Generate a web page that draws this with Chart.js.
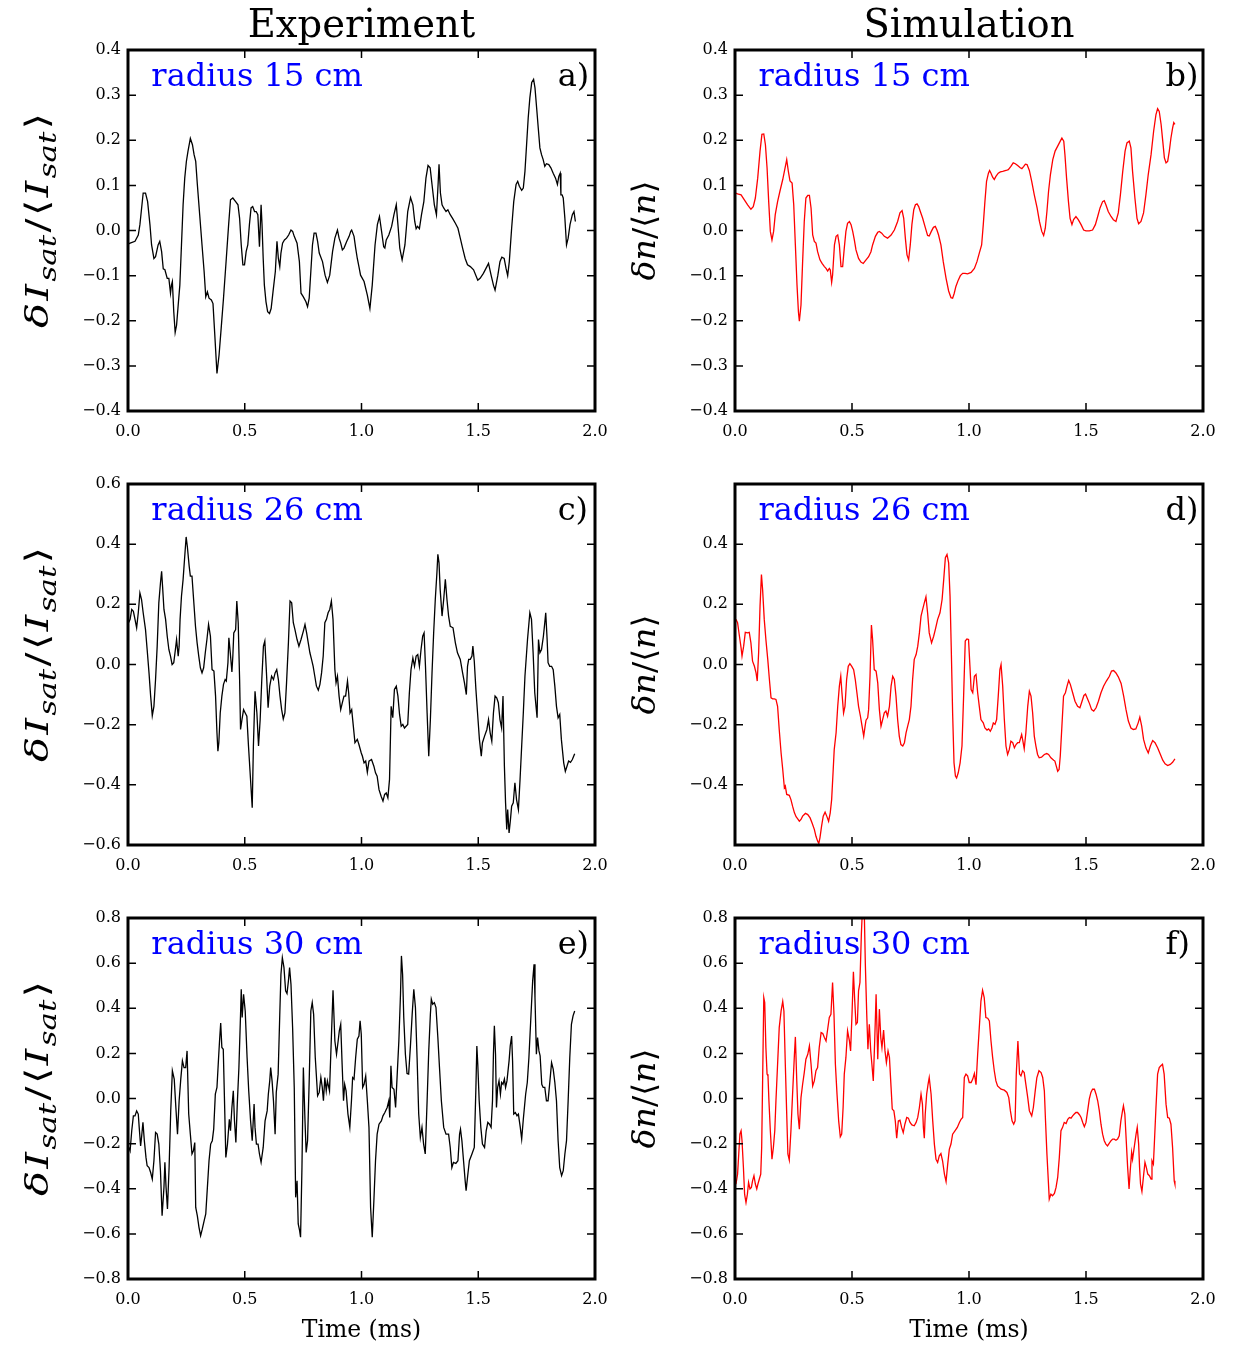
<!DOCTYPE html>
<html>
<head>
<meta charset="utf-8">
<script src="https://cdn.jsdelivr.net/npm/chart.js@4/dist/chart.umd.min.js"></script>
<style>
  html, body { margin: 0; padding: 0; background: #fff; }
  body { width: 1239px; height: 1347px; position: relative; overflow: hidden; }
  canvas { position: absolute; }
</style>
</head>
<body>
<script>
// Time axis (ms) and tick values
const timeTicks = [0, 0.5, 1.0, 1.5, 2.0];
const ticks15 = [-0.4, -0.3, -0.2, -0.1, 0.0, 0.1, 0.2, 0.3, 0.4];
const ticks26exp = [-0.6, -0.4, -0.2, 0.0, 0.2, 0.4, 0.6];
const ticks26sim = [-0.4, -0.2, 0.0, 0.2, 0.4];
const ticks30 = [-0.8, -0.6, -0.4, -0.2, 0.0, 0.2, 0.4, 0.6, 0.8];

// Probe fluctuation dI_sat/<I_sat>, radius 15 cm: [time (ms), value]
const exp15 = [[0.002,-0.030],[0.009,-0.028],[0.030,-0.024],[0.044,-0.010],[0.051,0.013],[0.065,0.083],[0.075,0.083],[0.084,0.064],[0.094,0.013],[0.101,-0.032],[0.111,-0.062],
[0.118,-0.058],[0.129,-0.032],[0.136,-0.024],[0.144,-0.047],[0.151,-0.085],[0.158,-0.087],[0.168,-0.106],[0.175,-0.106],[0.182,-0.139],[0.186,-0.121],
[0.190,-0.113],[0.196,-0.180],[0.202,-0.226],[0.208,-0.210],[0.215,-0.165],[0.222,-0.121],[0.229,-0.032],[0.236,0.057],[0.243,0.116],[0.250,0.153],
[0.257,0.176],[0.267,0.204],[0.276,0.190],[0.283,0.168],[0.290,0.153],[0.297,0.102],[0.307,0.035],[0.317,-0.032],[0.326,-0.091],[0.333,-0.147],
[0.340,-0.136],[0.347,-0.150],[0.357,-0.154],[0.364,-0.162],[0.371,-0.225],[0.381,-0.317],[0.390,-0.276],[0.399,-0.217],[0.409,-0.150],[0.421,-0.062],
[0.431,0.013],[0.439,0.068],[0.449,0.072],[0.461,0.064],[0.471,0.057],[0.478,0.027],[0.485,-0.032],[0.492,-0.076],[0.499,-0.076],[0.506,-0.047],
[0.513,-0.032],[0.520,0.013],[0.527,0.050],[0.534,0.053],[0.542,0.042],[0.549,0.042],[0.556,0.035],[0.563,-0.036],[0.570,0.057],[0.574,0.013],
[0.579,-0.062],[0.584,-0.121],[0.591,-0.158],[0.598,-0.180],[0.606,-0.184],[0.613,-0.173],[0.621,-0.136],[0.631,-0.091],[0.638,-0.024],[0.644,-0.062],
[0.650,-0.080],[0.655,-0.050],[0.662,-0.028],[0.670,-0.021],[0.679,-0.017],[0.688,-0.010],[0.698,0.001],[0.705,-0.002],[0.712,-0.013],[0.724,-0.028],
[0.734,-0.069],[0.741,-0.139],[0.751,-0.147],[0.762,-0.158],[0.769,-0.169],[0.776,-0.150],[0.783,-0.091],[0.790,-0.032],[0.797,-0.006],[0.805,-0.006],
[0.812,-0.024],[0.819,-0.050],[0.833,-0.069],[0.844,-0.099],[0.854,-0.115],[0.864,-0.099],[0.876,-0.047],[0.886,-0.017],[0.897,0.001],[0.904,-0.017],
[0.911,-0.028],[0.918,-0.043],[0.925,-0.039],[0.937,-0.024],[0.947,-0.013],[0.954,-0.002],[0.958,0.001],[0.968,-0.013],[0.975,-0.039],[0.982,-0.062],
[0.989,-0.080],[0.996,-0.099],
[1.011,-0.113],[1.025,-0.143],[1.036,-0.173],[1.046,-0.121],[1.058,-0.032],[1.068,0.013],[1.077,0.031],[1.086,-0.002],[1.095,-0.036],[1.100,-0.039],
[1.106,-0.021],[1.117,-0.010],[1.129,0.009],[1.139,0.035],[1.149,0.057],[1.156,0.013],[1.164,-0.039],[1.174,-0.065],[1.186,-0.032],[1.198,0.042],
[1.210,0.073],[1.220,0.057],[1.228,0.020],[1.234,0.004],[1.240,0.009],[1.248,0.004],[1.257,0.035],[1.267,0.064],[1.276,0.116],[1.285,0.144],
[1.294,0.139],[1.302,0.102],[1.312,0.057],[1.321,0.035],[1.328,0.102],[1.332,0.147],[1.338,0.083],[1.345,0.057],[1.352,0.050],[1.362,0.042],
[1.370,0.046],[1.380,0.035],[1.390,0.027],[1.402,0.016],[1.413,0.005],[1.423,-0.017],[1.433,-0.039],[1.444,-0.062],[1.454,-0.076],[1.466,-0.080],
[1.480,-0.087],[1.498,-0.110],[1.508,-0.106],[1.522,-0.095],[1.537,-0.080],[1.544,-0.073],[1.555,-0.099],[1.565,-0.121],[1.572,-0.132],[1.584,-0.099],
[1.593,-0.069],[1.601,-0.059],[1.611,-0.062],[1.619,-0.084],[1.626,-0.100],[1.633,-0.069],[1.643,0.005],[1.652,0.064],[1.662,0.102],[1.669,0.109],
[1.676,0.098],[1.686,0.089],[1.693,0.094],[1.700,0.131],[1.707,0.190],[1.714,0.250],[1.721,0.294],[1.729,0.328],[1.737,0.335],[1.743,0.316],
[1.750,0.272],[1.757,0.227],[1.764,0.183],[1.771,0.168],[1.778,0.157],[1.785,0.142],[1.792,0.148],[1.802,0.146],[1.811,0.139],[1.821,0.127],
[1.831,0.116],[1.839,0.102],[1.845,0.120],[1.851,0.127],[1.854,0.079],[1.859,0.079],[1.864,0.072],[1.871,0.027],[1.878,-0.032],[1.885,-0.017],
[1.893,0.013],[1.903,0.035],[1.910,0.042],[1.916,0.020]];

// Simulated density fluctuation dn/<n>, radius 15 cm
const sim15 = [[0.002,0.083],[0.011,0.081],[0.026,0.079],[0.040,0.068],[0.054,0.057],[0.068,0.047],[0.078,0.053],[0.087,0.072],[0.097,0.116],[0.107,0.176],[0.115,0.213],
[0.123,0.214],[0.130,0.190],[0.137,0.139],[0.144,0.064],[0.151,-0.002],[0.158,-0.021],[0.165,-0.002],[0.172,0.035],[0.182,0.064],[0.192,0.087],
[0.204,0.113],[0.214,0.139],[0.221,0.157],[0.228,0.131],[0.235,0.110],[0.244,0.105],[0.251,0.057],[0.258,-0.032],[0.265,-0.121],[0.271,-0.180],
[0.275,-0.201],[0.282,-0.165],[0.289,-0.069],[0.296,0.020],[0.303,0.072],[0.311,0.078],[0.318,0.078],[0.325,0.050],[0.332,-0.010],[0.339,-0.024],
[0.346,-0.028],[0.353,-0.047],[0.363,-0.065],[0.372,-0.073],[0.382,-0.080],[0.389,-0.084],[0.396,-0.090],[0.403,-0.084],[0.407,-0.087],[0.413,-0.115],
[0.417,-0.099],[0.425,-0.032],[0.432,-0.013],[0.439,-0.010],[0.446,-0.032],[0.453,-0.080],[0.460,-0.080],[0.467,-0.039],[0.474,-0.002],[0.481,0.016],
[0.489,0.020],[0.496,0.013],[0.503,-0.002],[0.510,-0.021],[0.517,-0.043],[0.528,-0.062],[0.538,-0.070],[0.548,-0.073],[0.560,-0.065],[0.571,-0.058],
[0.581,-0.047],[0.588,-0.032],[0.600,-0.013],[0.610,-0.004],[0.617,-0.002],[0.627,-0.006],[0.638,-0.013],[0.652,-0.017],[0.667,-0.010],[0.681,0.001],
[0.695,0.020],[0.705,0.039],[0.714,0.044],[0.721,0.027],[0.728,-0.017],[0.735,-0.054],[0.742,-0.065],[0.749,-0.032],[0.756,0.013],[0.764,0.046],
[0.771,0.057],[0.778,0.059],[0.785,0.053],[0.792,0.042],[0.802,0.027],[0.813,0.007],[0.823,-0.011],[0.830,-0.012],[0.839,-0.002],[0.848,0.007],
[0.856,0.009],[0.863,0.001],[0.870,-0.010],[0.880,-0.032],[0.890,-0.069],[0.902,-0.106],[0.913,-0.134],[0.923,-0.149],[0.930,-0.150],[0.937,-0.139],
[0.944,-0.124],[0.954,-0.110],[0.963,-0.100],[0.973,-0.095],[0.983,-0.095],[0.994,-0.096],
[1.009,-0.093],[1.023,-0.084],[1.034,-0.069],[1.044,-0.050],[1.054,-0.032],[1.061,0.013],[1.068,0.064],[1.075,0.109],[1.083,0.127],[1.088,0.133],
[1.094,0.127],[1.101,0.118],[1.108,0.113],[1.115,0.120],[1.125,0.127],[1.134,0.130],[1.144,0.131],[1.158,0.133],[1.168,0.135],[1.179,0.142],
[1.189,0.150],[1.198,0.148],[1.208,0.144],[1.219,0.139],[1.226,0.137],[1.234,0.142],[1.241,0.147],[1.248,0.146],[1.258,0.133],[1.268,0.109],
[1.279,0.079],[1.291,0.050],[1.301,0.020],[1.311,-0.002],[1.319,-0.011],[1.326,0.005],[1.333,0.042],[1.340,0.087],[1.348,0.124],[1.358,0.157],
[1.368,0.176],[1.379,0.187],[1.390,0.198],[1.397,0.205],[1.405,0.198],[1.410,0.168],[1.417,0.116],[1.425,0.064],[1.432,0.027],[1.440,0.013],
[1.447,0.024],[1.457,0.031],[1.467,0.024],[1.479,0.013],[1.490,0.001],[1.500,-0.001],[1.514,-0.001],[1.528,0.001],[1.540,0.013],[1.550,0.031],
[1.560,0.050],[1.571,0.064],[1.578,0.066],[1.585,0.057],[1.595,0.042],[1.607,0.031],[1.617,0.024],[1.628,0.020],[1.638,0.039],[1.647,0.079],
[1.657,0.131],[1.667,0.176],[1.675,0.194],[1.685,0.198],[1.692,0.183],[1.699,0.131],[1.709,0.072],[1.718,0.027],[1.725,0.015],[1.735,0.020],
[1.746,0.039],[1.756,0.079],[1.766,0.124],[1.778,0.168],[1.789,0.220],[1.799,0.257],[1.806,0.270],[1.813,0.264],[1.821,0.235],[1.828,0.198],
[1.835,0.161],[1.842,0.150],[1.849,0.153],[1.856,0.176],[1.863,0.205],[1.870,0.227],[1.875,0.239],[1.880,0.235]];

// Probe fluctuation, radius 26 cm
const exp26 = [[0.003,0.140],[0.009,0.150],[0.016,0.183],[0.023,0.177],[0.030,0.150],[0.037,0.122],[0.044,0.172],[0.051,0.238],[0.058,0.216],[0.065,0.172],[0.075,0.116],
[0.082,0.050],[0.090,-0.028],[0.097,-0.105],[0.104,-0.170],[0.111,-0.139],[0.118,-0.050],[0.125,0.061],[0.132,0.205],[0.139,0.271],[0.144,0.310],
[0.148,0.260],[0.154,0.183],[0.161,0.150],[0.168,0.094],[0.175,0.050],[0.182,0.028],[0.189,0.000],[0.196,0.006],[0.203,0.050],[0.208,0.083],
[0.215,0.028],[0.219,0.061],[0.223,0.150],[0.229,0.227],[0.236,0.283],[0.243,0.360],[0.249,0.424],[0.254,0.393],[0.262,0.327],[0.267,0.294],
[0.274,0.294],[0.281,0.216],[0.289,0.127],[0.296,0.072],[0.303,0.028],[0.310,-0.011],[0.317,-0.028],[0.324,-0.011],[0.331,0.039],[0.338,0.083],
[0.345,0.133],[0.353,0.094],[0.360,-0.017],[0.368,-0.022],[0.375,-0.105],[0.381,-0.227],[0.385,-0.288],[0.389,-0.260],[0.395,-0.161],[0.402,-0.105],
[0.409,-0.066],[0.416,-0.050],[0.421,-0.055],[0.428,0.006],[0.432,0.089],[0.438,0.039],[0.445,-0.025],[0.449,0.028],[0.453,0.105],[0.461,0.116],
[0.466,0.211],[0.472,0.139],[0.478,-0.050],[0.482,-0.216],[0.488,-0.183],[0.495,-0.150],[0.502,-0.161],[0.509,-0.172],[0.516,-0.271],[0.523,-0.360],
[0.532,-0.476],[0.537,-0.271],[0.544,-0.089],[0.552,-0.161],[0.559,-0.271],[0.566,-0.183],[0.573,-0.050],[0.580,0.061],[0.586,0.078],[0.593,-0.028],
[0.600,-0.144],[0.607,-0.072],[0.615,-0.039],[0.623,-0.050],[0.630,-0.028],[0.637,-0.017],[0.644,-0.050],[0.651,-0.105],[0.658,-0.150],[0.665,-0.181],
[0.672,-0.161],[0.679,-0.061],[0.687,0.072],[0.694,0.211],[0.701,0.205],[0.708,0.139],[0.715,0.116],[0.724,0.083],[0.732,0.061],[0.741,0.083],
[0.751,0.111],[0.758,0.133],[0.765,0.105],[0.772,0.072],[0.779,0.039],[0.786,0.017],[0.793,-0.006],[0.800,-0.039],[0.807,-0.072],[0.815,-0.085],
[0.822,-0.066],[0.829,-0.028],[0.836,0.028],[0.843,0.139],[0.850,0.150],[0.857,0.172],[0.864,0.183],[0.871,0.211],[0.878,0.150],[0.886,-0.017],
[0.891,-0.061],[0.897,-0.039],[0.904,-0.105],[0.911,-0.150],[0.918,-0.127],[0.925,-0.105],[0.932,-0.105],[0.940,-0.055],[0.945,-0.094],[0.951,-0.161],
[0.958,-0.150],[0.965,-0.205],[0.972,-0.260],[0.982,-0.249],[0.989,-0.266],[0.999,-0.294],
[1.004,-0.305],[1.011,-0.327],[1.018,-0.321],[1.025,-0.358],[1.032,-0.321],[1.043,-0.316],[1.053,-0.338],[1.060,-0.360],[1.067,-0.371],[1.075,-0.416],
[1.084,-0.438],[1.092,-0.454],[1.099,-0.432],[1.106,-0.427],[1.113,-0.443],[1.120,-0.382],[1.127,-0.139],[1.134,-0.177],[1.141,-0.083],[1.149,-0.072],
[1.156,-0.105],[1.163,-0.166],[1.170,-0.205],[1.177,-0.199],[1.184,-0.211],[1.198,-0.199],[1.205,-0.094],[1.212,-0.017],[1.220,0.022],[1.227,-0.006],
[1.234,0.028],[1.241,0.033],[1.248,-0.006],[1.255,0.050],[1.262,0.094],[1.268,0.105],[1.274,-0.006],[1.281,-0.161],[1.288,-0.305],[1.295,-0.183],
[1.302,-0.028],[1.309,0.105],[1.316,0.216],[1.323,0.305],[1.327,0.366],[1.332,0.338],[1.337,0.249],[1.345,0.161],[1.352,0.216],[1.359,0.283],
[1.366,0.216],[1.373,0.161],[1.380,0.127],[1.392,0.122],[1.402,0.072],[1.411,0.039],[1.423,0.017],[1.433,-0.028],[1.441,-0.061],[1.449,-0.100],
[1.454,-0.006],[1.459,0.017],[1.466,0.017],[1.473,0.028],[1.477,0.061],[1.483,0.011],[1.490,-0.083],[1.497,-0.161],[1.505,-0.249],[1.513,-0.305],
[1.518,-0.260],[1.527,-0.238],[1.537,-0.216],[1.544,-0.183],[1.551,-0.227],[1.558,-0.255],[1.565,-0.161],[1.572,-0.105],[1.579,-0.111],[1.586,-0.127],
[1.593,-0.183],[1.600,-0.211],[1.606,-0.105],[1.612,-0.338],[1.617,-0.460],[1.622,-0.548],[1.626,-0.482],[1.632,-0.560],[1.638,-0.515],[1.643,-0.471],
[1.650,-0.460],[1.657,-0.393],[1.664,-0.449],[1.672,-0.482],[1.679,-0.382],[1.686,-0.271],[1.693,-0.161],[1.700,-0.039],[1.711,0.083],[1.721,0.172],
[1.728,0.150],[1.735,0.039],[1.742,-0.094],[1.752,-0.177],[1.758,0.083],[1.764,0.039],[1.771,0.050],[1.779,0.094],[1.785,0.139],[1.789,0.172],
[1.795,0.083],[1.799,0.006],[1.806,-0.006],[1.814,-0.006],[1.821,-0.017],[1.828,-0.072],[1.835,-0.139],[1.842,-0.177],[1.849,-0.166],[1.856,-0.249],
[1.866,-0.327],[1.873,-0.355],[1.880,-0.338],[1.887,-0.321],[1.895,-0.325],[1.903,-0.316],[1.913,-0.297]];

// Simulated density fluctuation, radius 26 cm
const sim26 = [[0.004,0.150],[0.011,0.139],[0.019,0.094],[0.026,0.055],[0.030,0.028],[0.037,0.061],[0.044,0.107],[0.054,0.105],[0.061,0.107],[0.068,0.072],[0.075,0.011],
[0.083,-0.006],[0.090,-0.028],[0.095,-0.055],[0.101,0.039],[0.107,0.194],[0.113,0.299],[0.118,0.249],[0.125,0.150],[0.132,0.083],[0.140,0.017],
[0.147,-0.050],[0.154,-0.111],[0.161,-0.114],[0.168,-0.114],[0.175,-0.116],[0.182,-0.139],[0.189,-0.216],[0.197,-0.294],[0.204,-0.349],[0.211,-0.410],
[0.215,-0.404],[0.221,-0.432],[0.232,-0.435],[0.239,-0.449],[0.246,-0.471],[0.254,-0.493],[0.261,-0.506],[0.268,-0.513],[0.275,-0.521],[0.282,-0.515],
[0.289,-0.504],[0.301,-0.495],[0.311,-0.499],[0.321,-0.510],[0.329,-0.526],[0.339,-0.548],[0.346,-0.571],[0.353,-0.587],[0.358,-0.595],[0.363,-0.576],
[0.370,-0.537],[0.377,-0.504],[0.385,-0.491],[0.392,-0.504],[0.400,-0.521],[0.407,-0.493],[0.413,-0.449],[0.419,-0.360],[0.424,-0.283],[0.432,-0.227],
[0.439,-0.139],[0.446,-0.072],[0.452,-0.039],[0.457,-0.094],[0.464,-0.161],[0.470,-0.139],[0.477,-0.050],[0.484,-0.006],[0.491,0.003],[0.499,-0.006],
[0.507,-0.017],[0.514,-0.050],[0.521,-0.094],[0.528,-0.139],[0.536,-0.172],[0.543,-0.205],[0.550,-0.238],[0.556,-0.205],[0.560,-0.185],[0.567,-0.177],
[0.571,-0.150],[0.577,-0.039],[0.583,0.131],[0.588,0.083],[0.595,-0.017],[0.603,-0.022],[0.610,-0.061],[0.617,-0.150],[0.624,-0.205],[0.631,-0.183],
[0.638,-0.161],[0.645,-0.155],[0.652,-0.172],[0.660,-0.139],[0.667,-0.072],[0.674,-0.039],[0.681,-0.050],[0.688,-0.105],[0.695,-0.183],[0.702,-0.238],
[0.709,-0.266],[0.717,-0.271],[0.724,-0.260],[0.731,-0.227],[0.738,-0.205],[0.745,-0.183],[0.752,-0.139],[0.759,-0.050],[0.766,0.017],[0.774,0.033],
[0.781,0.061],[0.788,0.105],[0.795,0.161],[0.802,0.183],[0.809,0.205],[0.816,0.225],[0.823,0.172],[0.830,0.105],[0.840,0.072],[0.849,0.094],
[0.856,0.116],[0.866,0.150],[0.876,0.172],[0.885,0.216],[0.892,0.283],[0.899,0.355],[0.906,0.366],[0.913,0.338],[0.919,0.227],[0.924,0.061],
[0.930,-0.161],[0.936,-0.327],[0.942,-0.371],[0.947,-0.377],[0.954,-0.360],[0.962,-0.327],[0.970,-0.271],[0.977,-0.105],[0.984,0.078],[0.991,0.085],
[0.998,0.083],[1.004,-0.006],
[1.009,-0.083],[1.016,-0.094],[1.023,-0.039],[1.030,-0.033],[1.037,-0.094],[1.044,-0.139],[1.051,-0.183],[1.061,-0.194],[1.068,-0.211],[1.077,-0.218],
[1.084,-0.214],[1.091,-0.222],[1.098,-0.211],[1.104,-0.194],[1.111,-0.199],[1.118,-0.183],[1.125,-0.105],[1.132,-0.017],[1.137,0.000],[1.144,-0.072],
[1.151,-0.183],[1.158,-0.271],[1.165,-0.299],[1.172,-0.283],[1.179,-0.255],[1.187,-0.260],[1.194,-0.277],[1.201,-0.266],[1.208,-0.260],[1.215,-0.260],
[1.219,-0.249],[1.225,-0.233],[1.229,-0.249],[1.236,-0.280],[1.243,-0.227],[1.251,-0.139],[1.258,-0.089],[1.265,-0.105],[1.272,-0.161],[1.279,-0.238],
[1.286,-0.271],[1.293,-0.299],[1.300,-0.310],[1.310,-0.308],[1.322,-0.299],[1.332,-0.296],[1.340,-0.299],[1.350,-0.310],[1.362,-0.318],[1.367,-0.321],
[1.373,-0.338],[1.379,-0.355],[1.385,-0.349],[1.390,-0.305],[1.397,-0.205],[1.404,-0.105],[1.412,-0.094],[1.419,-0.072],[1.426,-0.053],[1.433,-0.066],
[1.443,-0.094],[1.453,-0.122],[1.464,-0.139],[1.474,-0.144],[1.481,-0.127],[1.491,-0.103],[1.498,-0.098],[1.505,-0.111],[1.515,-0.130],[1.524,-0.150],
[1.533,-0.155],[1.543,-0.144],[1.553,-0.122],[1.564,-0.094],[1.575,-0.072],[1.587,-0.055],[1.600,-0.039],[1.609,-0.022],[1.618,-0.020],[1.628,-0.028],
[1.638,-0.041],[1.650,-0.063],[1.661,-0.105],[1.671,-0.150],[1.681,-0.188],[1.692,-0.211],[1.702,-0.216],[1.713,-0.214],[1.723,-0.194],[1.730,-0.175],
[1.738,-0.205],[1.746,-0.249],[1.756,-0.277],[1.766,-0.294],[1.775,-0.271],[1.785,-0.253],[1.795,-0.260],[1.806,-0.277],[1.818,-0.299],[1.828,-0.318],
[1.838,-0.330],[1.849,-0.336],[1.860,-0.332],[1.870,-0.325],[1.880,-0.314]];

// Probe fluctuation, radius 30 cm
const exp30 = [[0.004,-0.217],[0.009,-0.232],[0.016,-0.143],[0.023,-0.077],[0.030,-0.077],[0.037,-0.055],[0.044,-0.069],[0.048,-0.128],[0.054,-0.210],[0.058,-0.173],[0.064,-0.106],
[0.070,-0.187],[0.077,-0.261],[0.082,-0.298],[0.090,-0.306],[0.097,-0.328],[0.104,-0.357],[0.111,-0.276],[0.118,-0.151],[0.125,-0.158],[0.132,-0.202],
[0.139,-0.320],[0.146,-0.520],[0.154,-0.394],[0.158,-0.283],[0.163,-0.394],[0.169,-0.490],[0.176,-0.306],[0.183,-0.055],[0.190,0.123],[0.198,0.086],
[0.205,-0.040],[0.212,-0.158],[0.219,-0.010],[0.226,0.086],[0.233,0.167],[0.240,0.137],[0.247,0.137],[0.253,0.211],[0.260,-0.069],[0.267,-0.158],
[0.274,-0.246],[0.280,-0.232],[0.286,-0.195],[0.290,-0.483],[0.297,-0.520],[0.304,-0.571],[0.311,-0.608],[0.318,-0.579],[0.326,-0.542],[0.333,-0.512],
[0.340,-0.394],[0.347,-0.276],[0.354,-0.202],[0.361,-0.187],[0.367,-0.136],[0.374,0.019],[0.381,0.049],[0.388,0.182],[0.392,0.255],[0.397,0.334],
[0.402,0.226],[0.408,0.218],[0.414,-0.040],[0.419,-0.261],[0.426,-0.202],[0.434,-0.092],[0.439,-0.143],[0.445,-0.040],[0.451,0.034],[0.456,-0.099],
[0.462,-0.195],[0.468,-0.025],[0.475,0.137],[0.482,0.373],[0.485,0.484],[0.489,0.359],[0.495,0.462],[0.502,0.388],[0.510,0.182],[0.517,0.034],
[0.525,-0.099],[0.532,-0.187],[0.540,-0.025],[0.544,-0.128],[0.550,-0.202],[0.557,-0.202],[0.563,-0.246],[0.570,-0.283],[0.579,-0.217],[0.587,-0.099],
[0.596,-0.055],[0.601,0.019],[0.607,0.078],[0.611,0.137],[0.617,0.078],[0.623,-0.010],[0.630,-0.158],[0.635,0.027],[0.643,0.108],[0.650,0.373],
[0.655,0.551],[0.661,0.624],[0.668,0.580],[0.675,0.477],[0.681,0.465],[0.687,0.521],[0.692,0.580],[0.698,0.506],[0.705,0.314],[0.712,0.049],
[0.718,-0.438],[0.724,-0.365],[0.729,-0.556],[0.735,-0.586],[0.739,-0.615],[0.745,-0.306],[0.751,0.137],[0.758,-0.099],[0.763,-0.239],[0.769,-0.187],
[0.776,0.078],[0.783,0.388],[0.789,0.425],[0.795,0.373],[0.802,0.182],[0.812,0.012],[0.819,0.027],[0.826,0.093],[0.832,0.049],[0.837,-0.010],
[0.843,0.093],[0.849,0.034],[0.854,0.078],[0.863,0.034],[0.871,0.270],[0.878,0.480],[0.886,0.255],[0.893,0.196],[0.900,0.255],[0.905,0.300],
[0.911,0.329],[0.917,0.152],[0.923,-0.010],[0.928,0.063],[0.934,0.034],[0.942,-0.069],[0.950,-0.128],[0.957,-0.010],[0.962,0.093],[0.968,0.086],
[0.975,0.182],[0.982,0.263],[0.989,0.277],[0.994,0.344],[0.999,0.285],[1.005,0.049],
[1.011,0.063],[1.018,0.100],[1.025,-0.010],[1.032,-0.128],[1.039,-0.483],[1.046,-0.615],[1.053,-0.453],[1.060,-0.276],[1.067,-0.158],[1.075,-0.114],
[1.085,-0.099],[1.092,-0.077],[1.100,-0.062],[1.110,-0.040],[1.117,-0.010],[1.121,-0.084],[1.126,0.145],[1.131,0.049],[1.139,0.041],[1.146,-0.040],
[1.153,0.108],[1.160,0.255],[1.167,0.462],[1.171,0.632],[1.176,0.551],[1.181,0.359],[1.188,0.196],[1.195,0.111],[1.202,0.108],[1.210,0.241],
[1.217,0.373],[1.224,0.484],[1.231,0.403],[1.238,0.182],[1.245,-0.069],[1.252,-0.173],[1.259,-0.128],[1.266,-0.202],[1.273,-0.246],[1.281,-0.010],
[1.288,0.211],[1.295,0.373],[1.299,0.440],[1.305,0.418],[1.312,0.425],[1.319,0.403],[1.327,0.270],[1.334,0.137],[1.342,-0.010],[1.352,-0.128],
[1.362,-0.158],[1.373,-0.158],[1.380,-0.217],[1.387,-0.306],[1.394,-0.283],[1.404,-0.288],[1.413,-0.276],[1.420,-0.158],[1.424,-0.136],[1.430,-0.187],
[1.437,-0.276],[1.444,-0.365],[1.448,-0.409],[1.454,-0.350],[1.462,-0.276],[1.473,-0.246],[1.483,-0.217],[1.490,0.049],[1.494,0.233],[1.498,0.152],
[1.504,-0.010],[1.511,-0.128],[1.518,-0.202],[1.527,-0.217],[1.534,-0.143],[1.541,-0.106],[1.548,-0.114],[1.555,-0.128],[1.561,-0.010],[1.565,0.196],
[1.569,0.322],[1.574,0.196],[1.578,-0.040],[1.583,0.049],[1.589,0.078],[1.595,0.019],[1.600,0.071],[1.606,0.063],[1.612,0.086],[1.617,0.049],
[1.623,0.078],[1.632,0.167],[1.637,0.233],[1.643,0.277],[1.647,0.167],[1.652,-0.069],[1.659,-0.062],[1.666,-0.077],[1.672,-0.069],[1.680,-0.128],
[1.686,-0.180],[1.693,-0.092],[1.703,0.019],[1.710,0.071],[1.717,0.182],[1.726,0.373],[1.733,0.521],[1.739,0.595],[1.743,0.447],[1.749,0.196],
[1.754,0.270],[1.760,0.211],[1.765,0.189],[1.772,0.063],[1.778,0.049],[1.785,0.049],[1.792,-0.010],[1.799,-0.010],[1.807,0.078],[1.814,0.159],
[1.821,0.130],[1.828,0.071],[1.835,-0.010],[1.842,-0.187],[1.849,-0.306],[1.857,-0.342],[1.864,-0.320],[1.871,-0.246],[1.878,-0.187],[1.885,-0.010],
[1.892,0.182],[1.899,0.329],[1.906,0.366],[1.913,0.388]];

// Simulated density fluctuation, radius 30 cm
const sim30 = [[0.004,-0.380],[0.011,-0.335],[0.016,-0.246],[0.021,-0.158],[0.026,-0.143],[0.030,-0.187],[0.036,-0.306],[0.041,-0.424],[0.047,-0.461],[0.053,-0.424],[0.058,-0.372],
[0.064,-0.401],[0.070,-0.394],[0.075,-0.365],[0.081,-0.342],[0.087,-0.379],[0.093,-0.401],[0.098,-0.379],[0.104,-0.357],[0.110,-0.335],[0.114,-0.217],
[0.118,0.078],[0.123,0.447],[0.127,0.425],[0.132,0.226],[0.137,0.108],[0.141,0.100],[0.145,-0.010],[0.151,-0.143],[0.158,-0.269],[0.164,-0.217],
[0.170,-0.143],[0.175,-0.010],[0.182,0.152],[0.189,0.314],[0.197,0.388],[0.204,0.430],[0.209,0.388],[0.215,0.152],[0.221,-0.069],[0.226,-0.246],
[0.232,-0.273],[0.239,-0.143],[0.246,0.019],[0.254,0.196],[0.258,0.273],[0.264,0.078],[0.269,-0.069],[0.275,-0.136],[0.282,0.004],[0.289,0.063],
[0.296,0.115],[0.303,0.174],[0.311,0.196],[0.318,0.233],[0.325,0.152],[0.332,0.056],[0.339,0.078],[0.346,0.123],[0.353,0.137],[0.360,0.226],
[0.368,0.292],[0.375,0.288],[0.382,0.270],[0.389,0.255],[0.396,0.307],[0.403,0.359],[0.410,0.373],[0.417,0.514],[0.423,0.373],[0.429,0.152],
[0.436,0.019],[0.443,-0.099],[0.450,-0.170],[0.456,-0.158],[0.462,-0.040],[0.467,0.108],[0.474,0.182],[0.481,0.300],[0.489,0.255],[0.494,0.211],
[0.500,0.373],[0.506,0.562],[0.511,0.447],[0.517,0.329],[0.523,0.337],[0.528,0.477],[0.534,0.514],[0.540,0.728],[0.545,0.850],[0.552,0.850],
[0.557,0.595],[0.563,0.373],[0.568,0.218],[0.574,0.329],[0.580,0.211],[0.585,0.152],[0.591,0.078],[0.597,0.255],[0.603,0.462],[0.610,0.174],
[0.617,0.396],[0.623,0.270],[0.628,0.226],[0.635,0.303],[0.641,0.211],[0.647,0.159],[0.654,0.211],[0.660,0.182],[0.667,0.049],[0.672,-0.047],
[0.679,-0.055],[0.685,-0.099],[0.691,-0.176],[0.698,-0.099],[0.705,-0.096],[0.712,-0.128],[0.719,-0.151],[0.726,-0.114],[0.734,-0.084],[0.741,-0.087],
[0.748,-0.106],[0.756,-0.117],[0.766,-0.121],[0.774,-0.106],[0.781,-0.084],[0.788,-0.040],[0.795,0.019],[0.801,-0.025],[0.805,-0.128],[0.809,-0.176],
[0.813,-0.069],[0.819,0.019],[0.825,0.063],[0.830,0.093],[0.838,0.019],[0.845,-0.099],[0.852,-0.202],[0.859,-0.269],[0.866,-0.283],[0.873,-0.254],
[0.880,-0.244],[0.887,-0.276],[0.895,-0.335],[0.902,-0.368],[0.909,-0.291],[0.916,-0.224],[0.923,-0.202],[0.930,-0.158],[0.940,-0.143],[0.950,-0.128],
[0.959,-0.106],[0.966,-0.092],[0.973,-0.084],[0.980,0.093],[0.987,0.108],[0.994,0.100],[1.001,0.071],[1.009,0.071],
[1.016,0.086],[1.023,0.111],[1.030,0.061],[1.037,0.196],[1.044,0.314],[1.051,0.432],[1.058,0.480],[1.065,0.447],[1.072,0.359],[1.080,0.356],
[1.087,0.344],[1.094,0.255],[1.101,0.182],[1.108,0.123],[1.115,0.078],[1.122,0.056],[1.137,0.041],[1.151,0.037],[1.162,0.027],[1.170,0.004],
[1.177,-0.055],[1.184,-0.099],[1.191,-0.114],[1.197,-0.099],[1.202,0.108],[1.209,0.255],[1.216,0.108],[1.222,0.100],[1.229,0.123],[1.236,0.115],
[1.243,0.063],[1.251,0.004],[1.258,-0.055],[1.268,-0.077],[1.275,-0.040],[1.283,0.034],[1.290,0.093],[1.299,0.123],[1.308,0.115],[1.315,0.093],
[1.322,0.034],[1.327,-0.099],[1.333,-0.246],[1.339,-0.365],[1.343,-0.446],[1.350,-0.424],[1.357,-0.431],[1.365,-0.421],[1.372,-0.394],[1.379,-0.350],
[1.386,-0.261],[1.393,-0.143],[1.400,-0.128],[1.407,-0.106],[1.415,-0.111],[1.422,-0.092],[1.429,-0.084],[1.436,-0.087],[1.443,-0.077],[1.450,-0.069],
[1.457,-0.062],[1.464,-0.062],[1.472,-0.072],[1.479,-0.084],[1.486,-0.106],[1.493,-0.125],[1.500,-0.106],[1.507,-0.055],[1.514,-0.003],[1.521,0.027],
[1.528,0.041],[1.536,0.041],[1.543,0.019],[1.550,-0.010],[1.557,-0.055],[1.564,-0.114],[1.571,-0.158],[1.578,-0.187],[1.585,-0.202],[1.592,-0.210],
[1.599,-0.199],[1.607,-0.187],[1.614,-0.180],[1.621,-0.180],[1.628,-0.185],[1.635,-0.180],[1.642,-0.165],[1.649,-0.099],[1.656,-0.055],[1.660,-0.032],
[1.666,-0.069],[1.672,-0.187],[1.678,-0.306],[1.684,-0.401],[1.689,-0.320],[1.695,-0.239],[1.699,-0.269],[1.706,-0.217],[1.714,-0.158],[1.719,-0.128],
[1.725,-0.202],[1.729,-0.306],[1.733,-0.379],[1.739,-0.412],[1.746,-0.342],[1.752,-0.283],[1.758,-0.306],[1.764,-0.335],[1.771,-0.342],[1.778,-0.357],
[1.782,-0.276],[1.788,-0.291],[1.792,-0.202],[1.799,-0.040],[1.806,0.108],[1.813,0.137],[1.820,0.145],[1.827,0.152],[1.834,0.108],[1.842,-0.025],
[1.849,-0.084],[1.856,-0.087],[1.863,-0.114],[1.870,-0.217],[1.877,-0.365],[1.880,-0.379]];

const columnTitles = ['Experiment', 'Simulation'];
const radiusNotes = ['radius 15 cm', 'radius 26 cm', 'radius 30 cm'];
const panelLetters = [['a)', 'b)'], ['c)', 'd)'], ['e)', 'f)']];
const xAxisLabel = 'Time (ms)';

// Math-style axis labels, split into italic runs and subscripts
const labelExp = [
  { t: '\u03B4', it: true }, { t: 'I', it: true }, { t: 'sat', it: true, sub: true },
  { t: '/', it: false }, { t: '\u27E8', it: false }, { t: 'I', it: true },
  { t: 'sat', it: true, sub: true }, { t: '\u27E9', it: false }
];
const labelSim = [
  { t: '\u03B4', it: true }, { t: 'n', it: true }, { t: '/', it: false },
  { t: '\u27E8', it: false }, { t: 'n', it: true }, { t: '\u27E9', it: false }
];

const SERIF = '"DejaVu Serif", "Liberation Serif", serif';

function fmtTick(v) {
  const r = Math.round(v * 10) / 10;
  if (Math.abs(r) < 1e-9) return '0.0';
  return (r < 0 ? '\u2212' : '') + Math.abs(r).toFixed(1);
}

// Rotated label: glyphs widened (up to 1.3x) and lightly spaced so it spans `span` px
function drawMathLabel(ctx, parts, baseX, centerY, size, span) {
  ctx.save();
  ctx.translate(baseX, centerY);
  ctx.rotate(-Math.PI / 2);
  ctx.textBaseline = 'alphabetic';
  ctx.textAlign = 'left';
  let total = 0;
  const runs = parts.map(p => {
    const fs = p.sub ? size * 0.74 : size;
    const font = (p.it ? 'italic ' : '') + fs + 'px ' + SERIF;
    ctx.font = font;
    const w = ctx.measureText(p.t).width;
    total += w;
    return { t: p.t, font, w, sub: p.sub };
  });
  const stretch = Math.max(1, Math.min(1.3, span / total));
  const gap = Math.max(0, (span - total * stretch) / (runs.length - 1));
  let x = -(total * stretch + gap * (runs.length - 1)) / 2;
  ctx.fillStyle = '#000';
  runs.forEach(r => {
    ctx.save();
    ctx.translate(x, r.sub ? size * 0.24 : 0);
    ctx.scale(stretch, 1);
    ctx.font = r.font;
    ctx.fillText(r.t, 0, 0);
    ctx.restore();
    x += r.w * stretch + gap;
  });
  ctx.restore();
}

// Frame, inward ticks on all four sides and the panel annotations
const panelDecor = {
  id: 'panelDecor',
  afterDraw(chart, args, o) {
    const { ctx, chartArea: a } = chart;
    const xs = chart.scales.x, ys = chart.scales.y;
    const w = a.right - a.left, h = a.bottom - a.top;
    ctx.save();
    ctx.strokeStyle = '#000';
    ctx.lineWidth = 1.5;
    const len = 8;
    ctx.beginPath();
    xs.ticks.forEach(t => {
      const px = xs.getPixelForValue(t.value);
      ctx.moveTo(px, a.bottom); ctx.lineTo(px, a.bottom - len);
      ctx.moveTo(px, a.top); ctx.lineTo(px, a.top + len);
    });
    ys.ticks.forEach(t => {
      const py = ys.getPixelForValue(t.value);
      ctx.moveTo(a.left, py); ctx.lineTo(a.left + len, py);
      ctx.moveTo(a.right, py); ctx.lineTo(a.right - len, py);
    });
    ctx.stroke();
    ctx.lineWidth = 3;
    ctx.strokeRect(a.left, a.top, w, h);

    ctx.textBaseline = 'alphabetic';
    ctx.textAlign = 'left';
    ctx.font = '32px ' + SERIF;
    ctx.fillStyle = '#0000ff';
    ctx.fillText(o.note, a.left + 0.05 * w, a.bottom - 0.9 * h);
    ctx.fillStyle = '#000';
    ctx.fillText(o.letter, a.left + 0.92 * w, a.bottom - 0.9 * h);

    if (o.title) {
      ctx.textAlign = 'center';
      ctx.font = '38.5px ' + SERIF;
      ctx.fillText(o.title, (a.left + a.right) / 2, a.top - 13);
    }
    if (o.xlabel) {
      ctx.textAlign = 'center';
      ctx.font = '23.5px ' + SERIF;
      ctx.fillText(o.xlabel, (a.left + a.right) / 2, a.bottom + 58);
    }
    const lab = o.ylabel;
    drawMathLabel(ctx, lab.parts, a.left - 80, (a.top + a.bottom) / 2 + lab.shift, lab.size, lab.span);
    ctx.restore();
  }
};

// Page layout of the 3 x 2 grid of axes
const colLeft = [128, 735], colWidth = [467, 468];
const rowTop = [50, 484, 918], rowHeight = 361;
const PAD_TOP = 50, AXIS_W = 128, PAD_RIGHT = 36, AXIS_H = 66;
const yLabels = [
  { parts: labelExp, size: 32, span: 215, shift: -10 },
  { parts: labelSim, size: 32, span: 100, shift: 0 }
];

const panels = [
  { row: 0, col: 0, series: exp15, color: '#000000', yMin: -0.4, yMax: 0.4, yTicks: ticks15 },
  { row: 0, col: 1, series: sim15, color: '#ff0000', yMin: -0.4, yMax: 0.4, yTicks: ticks15 },
  { row: 1, col: 0, series: exp26, color: '#000000', yMin: -0.6, yMax: 0.6, yTicks: ticks26exp },
  { row: 1, col: 1, series: sim26, color: '#ff0000', yMin: -0.6, yMax: 0.6, yTicks: ticks26sim },
  { row: 2, col: 0, series: exp30, color: '#000000', yMin: -0.8, yMax: 0.8, yTicks: ticks30 },
  { row: 2, col: 1, series: sim30, color: '#ff0000', yMin: -0.8, yMax: 0.8, yTicks: ticks30 }
];

const tickFont = { family: SERIF, size: 16 };

panels.forEach(p => {
  const cv = document.createElement('canvas');
  const cw = AXIS_W + colWidth[p.col] + PAD_RIGHT;
  const ch = PAD_TOP + rowHeight + AXIS_H;
  cv.width = cw; cv.height = ch;
  cv.style.width = cw + 'px'; cv.style.height = ch + 'px';
  cv.style.left = (colLeft[p.col] - AXIS_W) + 'px';
  cv.style.top = (rowTop[p.row] - PAD_TOP) + 'px';
  document.body.appendChild(cv);

  new Chart(cv, {
    type: 'line',
    data: {
      datasets: [{
        data: p.series.map(([t, v]) => ({ x: t, y: v })),
        borderColor: p.color,
        borderWidth: 1.3,
        pointRadius: 0,
        tension: 0,
        fill: false
      }]
    },
    options: {
      responsive: false,
      animation: false,
      events: [],
      layout: { padding: { left: 0, top: PAD_TOP, right: PAD_RIGHT, bottom: 0 } },
      plugins: {
        legend: { display: false },
        tooltip: { enabled: false },
        panelDecor: {
          note: radiusNotes[p.row],
          letter: panelLetters[p.row][p.col],
          title: p.row === 0 ? columnTitles[p.col] : null,
          xlabel: p.row === 2 ? xAxisLabel : null,
          ylabel: yLabels[p.col]
        }
      },
      scales: {
        x: {
          type: 'linear', min: 0, max: 2,
          afterBuildTicks: s => { s.ticks = timeTicks.map(v => ({ value: v })); },
          afterFit: s => { s.height = AXIS_H; },
          grid: { display: false, drawTicks: false },
          border: { display: false },
          ticks: { font: tickFont, color: '#000', padding: 11, maxRotation: 0, autoSkip: false, callback: v => fmtTick(v) }
        },
        y: {
          type: 'linear', min: p.yMin, max: p.yMax,
          afterBuildTicks: s => { s.ticks = p.yTicks.map(v => ({ value: v })); },
          afterFit: s => { s.width = AXIS_W; },
          grid: { display: false, drawTicks: false },
          border: { display: false },
          ticks: { font: tickFont, color: '#000', padding: 7, autoSkip: false, callback: v => fmtTick(v) }
        }
      }
    },
    plugins: [panelDecor]
  });
});
</script>
</body>
</html>
